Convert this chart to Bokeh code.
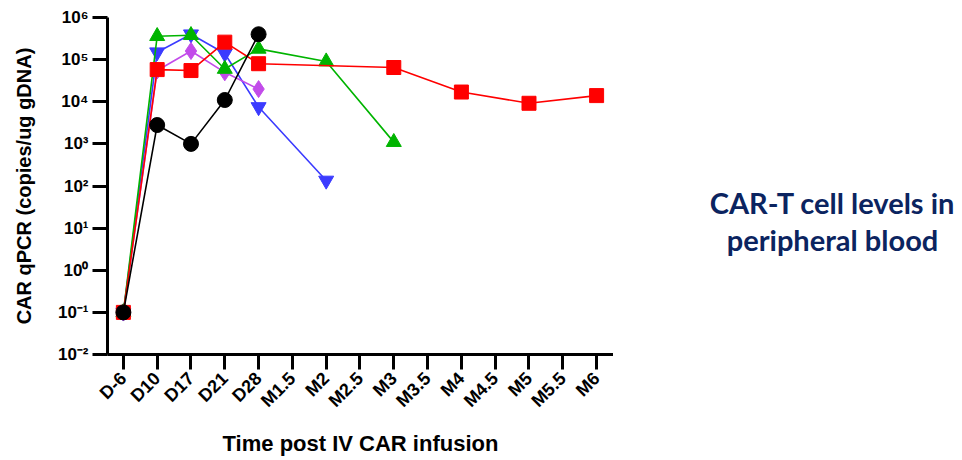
import math
from bokeh.plotting import figure
from bokeh.layouts import row
from bokeh.models import Range1d, FixedTicker, Label
from bokeh.embed import file_html
from bokeh.resources import INLINE

categories = ["D-6", "D10", "D17", "D21", "D28", "M1.5", "M2", "M2.5",
              "M3", "M3.5", "M4", "M4.5", "M5", "M5.5", "M6"]

y_ticks = [1e-2, 1e-1, 1, 10, 100, 1e3, 1e4, 1e5, 1e6]
y_tick_labels = ["10\u207b\u00b2", "10\u207b\u00b9", "10\u2070", "10\u00b9", "10\u00b2",
                 "10\u00b3", "10\u2074", "10\u2075", "10\u2076"]

blue_t = ["D-6", "D10", "D17", "D21", "D28", "M2"]
blue_v = [0.1, 1.5e5, 4.0e5, 1.4e5, 7.5e3, 1.35e2]

purple_t = ["D-6", "D10", "D17", "D21", "D28"]
purple_v = [0.1, 5.5e4, 1.6e5, 5.0e4, 2.0e4]

green_t = ["D-6", "D10", "D17", "D21", "D28", "M2", "M3"]
green_v = [0.1, 3.6e5, 3.8e5, 6.0e4, 1.8e5, 9.0e4, 1.1e3]

red_t = ["D-6", "D10", "D17", "D21", "D28", "M3", "M4", "M5", "M6"]
red_v = [0.1, 5.8e4, 5.5e4, 2.6e5, 8.0e4, 6.5e4, 1.7e4, 9.2e3, 1.4e4]

black_t = ["D-6", "D10", "D17", "D21", "D28"]
black_v = [0.1, 2.8e3, 1.0e3, 1.1e4, 4.0e5]

x_title = "Time post IV CAR infusion"
y_title = "CAR qPCR (copies/ug gDNA)"
side_title = ["CAR-T cell levels in", "peripheral blood"]

idx = {c: i for i, c in enumerate(categories)}

p = figure(width=613, height=460, output_backend="svg", toolbar_location=None,
           y_axis_type="log",
           x_range=Range1d(-0.47, len(categories) - 0.5),
           y_range=Range1d(y_ticks[0], y_ticks[-1]),
           min_border_left=107, min_border_right=0,
           min_border_top=17, min_border_bottom=106)
p.outline_line_color = None
p.xgrid.visible = False
p.ygrid.visible = False
p.background_fill_color = "white"
p.border_fill_color = "white"

FONT = "Liberation Sans"

xa = p.xaxis[0]
xa.ticker = FixedTicker(ticks=list(range(len(categories))))
xa.major_label_overrides = {i: c for i, c in enumerate(categories)}
xa.major_label_orientation = math.pi / 4
xa.axis_label = x_title

ya = p.yaxis[0]
ya.ticker = FixedTicker(ticks=y_ticks)
ya.major_label_overrides = {t: l for t, l in zip(y_ticks, y_tick_labels)}
ya.axis_label = y_title

for ax in (xa, ya):
    ax.axis_line_width = 3
    ax.axis_line_color = "black"
    ax.major_tick_line_width = 3
    ax.major_tick_line_color = "black"
    ax.major_tick_out = 15
    ax.major_tick_in = 0
    ax.minor_tick_line_color = None
    ax.major_label_text_font = FONT
    ax.major_label_text_font_style = "bold"
    ax.major_label_text_color = "black"
    ax.axis_label_text_font = FONT
    ax.axis_label_text_font_style = "bold"
    ax.axis_label_text_color = "black"

xa.major_label_text_font_size = "18px"
xa.axis_label_text_font_size = "22px"
xa.major_label_standoff = 6
xa.axis_label_standoff = 10
ya.major_label_text_font_size = "17px"
ya.axis_label_text_font_size = "20px"
ya.major_label_standoff = 4
ya.axis_label_standoff = 20

series = [
    (blue_t, blue_v, "#3B3BFF", "inverted_triangle", 15),
    (purple_t, purple_v, "#C24BEA", "diamond", 17),
    (green_t, green_v, "#00B400", "triangle", 15),
    (red_t, red_v, "#FF0000", "square", 14),
    (black_t, black_v, "#000000", "circle", 15),
]
for t, v, col, mk, sz in series:
    xs = [idx[c] for c in t]
    p.line(xs, v, line_color=col, line_width=1.6)
    p.scatter(xs, v, marker=mk, size=sz, fill_color=col, line_color=col)

# side panel with the caption; its frame is aligned with the main frame
p2 = figure(width=349, height=460, output_backend="svg", toolbar_location=None,
            x_range=Range1d(0, 349), y_range=Range1d(106, 443),
            x_axis_location=None, y_axis_location=None, title=None,
            min_border=0, min_border_left=0, min_border_right=0,
            min_border_top=0, min_border_bottom=0)
p2.grid.visible = False
p2.outline_line_color = None
p2.background_fill_color = "white"
p2.border_fill_color = "white"

NAVY = "#0B2460"
for i, txt in enumerate(side_title):
    p2.add_layout(Label(x=219, y=258 - 37 * i,
                        text=txt, text_align="center", text_baseline="alphabetic",
                        text_font="Lato", text_font_style="bold",
                        text_font_size="29px", text_color=NAVY))

open("out.html", "w").write(file_html(row(p, p2), INLINE))
